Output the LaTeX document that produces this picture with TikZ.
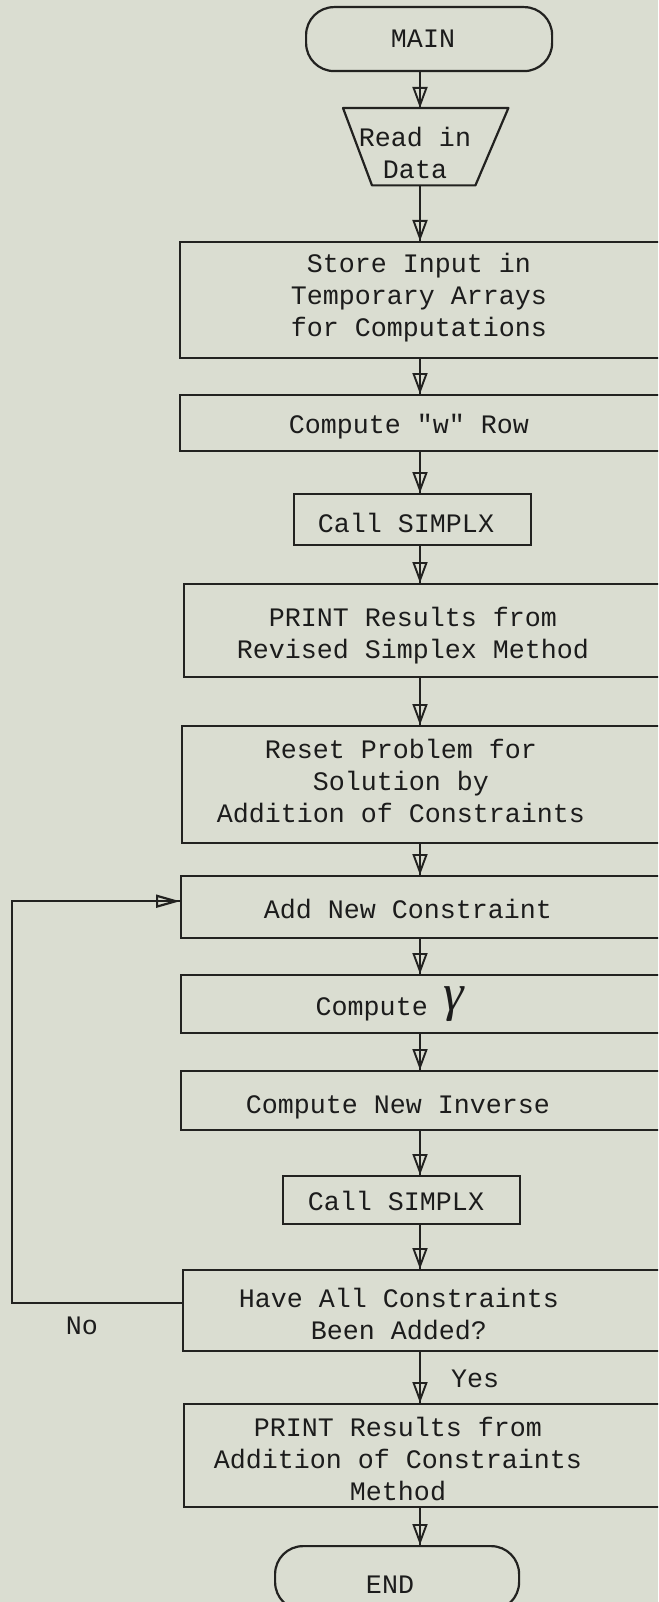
\documentclass[tikz,border=0pt]{standalone}
\usepackage{fontspec}
\newfontfamily\flowmono{Liberation Mono}
\newfontfamily\greekserif{Liberation Serif}
\usetikzlibrary{arrows.meta}
\definecolor{bgc}{RGB}{218,221,209}
\definecolor{linec}{RGB}{34,34,32}
\definecolor{textc}{RGB}{28,28,28}
\tikzset{
  box/.style={draw=linec, line width=2.4pt, rectangle, inner sep=0pt, anchor=north west},
  term/.style={box, line width=2.2pt, rounded corners=28pt},
  txt/.style={font=\flowmono\fontsize{26.67}{32}\selectfont, text=textc, align=center, inner sep=0pt},
  thru/.style={draw=linec, line width=1.9pt},
  flow/.style={draw=linec, line width=1.9pt, -{Triangle[open, length=21pt, width=15pt]}},
  backflow/.style={draw=linec, line width=2.2pt, -{Triangle[open, length=24pt, width=13pt]}},
}
\begin{document}
\begin{tikzpicture}[x=1pt, y=-1pt]
\useasboundingbox (0,0) rectangle (658,1602);
\clip (0,0) rectangle (658,1602);
\fill[bgc] (0,0) rectangle (658,1602);
\coordinate (fx) at (420,0);
% shapes
\node[term, minimum width=246pt, minimum height=64pt] (main) at (305,6) {};
\node[inner sep=0pt, minimum width=165pt, minimum height=77pt, anchor=north west] (read) at (343,108) {};
\draw[draw=linec, line width=2.2pt, line join=round] (read.north west) -- (read.north east) -- ([xshift=-33pt]read.south east) -- ([xshift=29pt]read.south west) -- cycle;
\node[box, minimum width=491pt, minimum height=116pt] (store) at (179,241) {};
\node[box, minimum width=491pt, minimum height=56pt] (computew) at (179,394) {};
\node[box, minimum width=237pt, minimum height=51pt] (call1) at (293,493) {};
\node[box, minimum width=487pt, minimum height=93pt] (print1) at (183,583) {};
\node[box, minimum width=489pt, minimum height=117pt] (reset) at (181,725) {};
\node[box, minimum width=490pt, minimum height=62pt] (addnew) at (180,875) {};
\node[box, minimum width=490pt, minimum height=58pt] (gammab) at (180,974) {};
\node[box, minimum width=490pt, minimum height=59pt] (inverse) at (180,1070) {};
\node[box, minimum width=237pt, minimum height=48pt] (call2) at (282,1175) {};
\node[box, minimum width=488pt, minimum height=81pt] (haveall) at (182,1269) {};
\node[box, minimum width=487pt, minimum height=103pt] (print2) at (183,1403) {};
\node[term, minimum width=244pt, minimum height=64pt] (endt) at (274,1545) {};
% texts
\node[txt, anchor=base] (mainT) at (423,48) {MAIN};
\node[txt] (readT) at (415,153) {Read in\\Data};
\node[txt] (storeT) at (419,298) {Store Input in\\Temporary Arrays\\for Computations};
\node[txt, anchor=base] (computewT) at (409,433) {Compute "w" Row};
\node[txt, anchor=base] (call1T) at (406,532) {Call SIMPLX};
\node[txt] (print1T) at (413,636) {PRINT Results from\\Revised Simplex Method};
\node[txt] (resetT) at (401,781) {Reset Problem for\\Solution by\\Addition of Constraints};
\node[txt, anchor=base] (addnewT) at (408,918) {Add New Constraint};
\node[txt, anchor=base] (gammaT) at (390,1015) {Compute \raisebox{5pt}{\greekserif\itshape\fontsize{52}{52}\selectfont γ}};
\node[txt, anchor=base] (inverseT) at (398,1113) {Compute New Inverse};
\node[txt, anchor=base] (call2T) at (396,1210) {Call SIMPLX};
\node[txt] (haveallT) at (399,1314) {Have All Constraints\\Been Added?};
\node[txt] (print2T) at (398,1459) {PRINT Results from\\Addition of Constraints\\Method};
\node[txt, anchor=base] (endT) at (390,1593) {END};
\node[txt, anchor=base] (yesT) at (475,1387) {Yes};
\node[txt, anchor=base] (noT) at (82,1334) {No};
% connectors
\foreach \a/\b in {main/read, read/store, store/computew, computew/call1, call1/print1, print1/reset, reset/addnew, addnew/gammab, gammab/inverse, inverse/call2, call2/haveall, haveall/print2, print2/endt} {
  \draw[thru] (\a.south -| fx) -- (\b.north -| fx);
  \draw[flow] (\a.south -| fx) -- (\b.north -| fx);
}
\draw[thru, line width=2.2pt] ([yshift=7.5pt]haveall.west) -- ++(-170,0) |- ([yshift=6pt]addnew.west);
\draw[backflow] ([yshift=7.5pt]haveall.west) -- ++(-170,0) |- ([yshift=6pt]addnew.west);
\end{tikzpicture}
\end{document}
